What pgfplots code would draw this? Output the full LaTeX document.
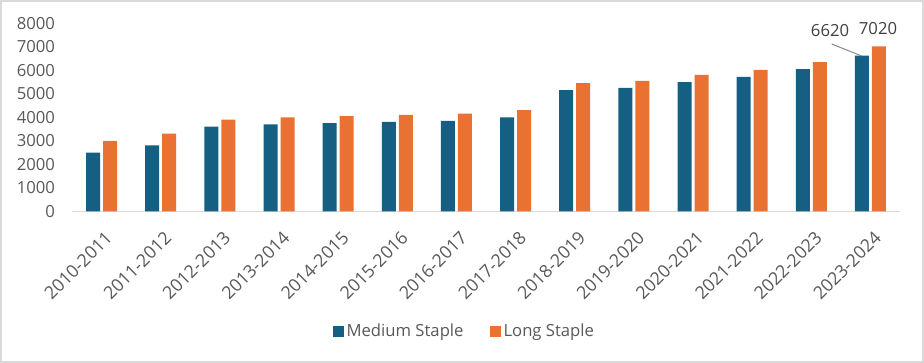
\documentclass[border=0pt]{standalone}
\usepackage{pgfplots}
\pgfplotsset{compat=1.18}
\usepackage{fontspec}
\setmainfont{Open Sans}
\definecolor{cblue}{HTML}{156082}
\definecolor{corange}{HTML}{E97132}
\definecolor{ctext}{HTML}{595959}
\definecolor{cdark}{HTML}{404040}
\definecolor{caxis}{HTML}{D9D9D9}
\begin{document}
\begin{tikzpicture}
\useasboundingbox (0,0) rectangle (693pt,272.25pt);
\fill[white] (0,0) rectangle (693pt,272.25pt);
\begin{axis}[
  scale only axis, width=621pt, height=141pt,
  at={(54pt,113.8pt)}, anchor=south west,
  clip=false,
  ybar=2.25pt, bar width=10.5pt,
  ymin=0, ymax=8000, ytick={0,1000,...,8000},
  xmin=-0.5, xmax=13.5, xtick={0,...,13},
  xticklabels={2010-2011,2011-2012,2012-2013,2013-2014,2014-2015,2015-2016,2016-2017,2017-2018,2018-2019,2019-2020,2020-2021,2021-2022,2022-2023,2023-2024},
  axis x line*=bottom, axis y line*=left,
  x axis line style={draw=caxis, line width=1pt, -},
  y axis line style={draw=none},
  major tick length=0pt, tick style={draw=none},
  /pgf/number format/assume math mode=true,
  /pgf/number format/1000 sep={},
  yticklabel style={anchor=east, xshift=-9.3pt, font=\fontsize{12.5}{15}\selectfont, text=ctext},
  xticklabel style={xshift=2pt, yshift=-14pt, rotate=45, anchor=north east, inner sep=0pt,
    font=\fontsize{13.3}{15}\selectfont, text=ctext},
  legend style={draw=none, fill=none, legend columns=2, at={(0.4746,-0.64)}, anchor=center,
    font=\fontsize{12.5}{15}\selectfont, text=ctext,
    /tikz/every even column/.append style={column sep=18pt}},
  legend image code/.code={\fill[#1] (0pt,-4pt) rectangle (8pt,4pt);},
]
\addplot[fill=cblue, draw=none] coordinates {
(0,2500) (1,2800) (2,3600) (3,3700) (4,3750) (5,3800) (6,3850)
(7,4000) (8,5150) (9,5250) (10,5500) (11,5720) (12,6050) (13,6620)};
\addplot[fill=corange, draw=none] coordinates {
(0,3000) (1,3300) (2,3900) (3,4000) (4,4050) (5,4100) (6,4150)
(7,4300) (8,5450) (9,5550) (10,5800) (11,6020) (12,6350) (13,7020)};
\legend{Medium Staple, Long Staple}
\draw[color=ctext!70, line width=0.75pt] (axis cs:12.345,7118) -- (axis cs:12.852,6608);
\node[font=\fontsize{12.5}{15}\selectfont, text=cdark] at (axis cs:12.317,7672) {6620};
\node[font=\fontsize{12.5}{15}\selectfont, text=cdark] at (axis cs:13.128,7787) {7020};
\end{axis}
\draw[caxis, line width=1.5pt] (0.75pt,0.75pt) rectangle (692.25pt,271.5pt);
\end{tikzpicture}
\end{document}
